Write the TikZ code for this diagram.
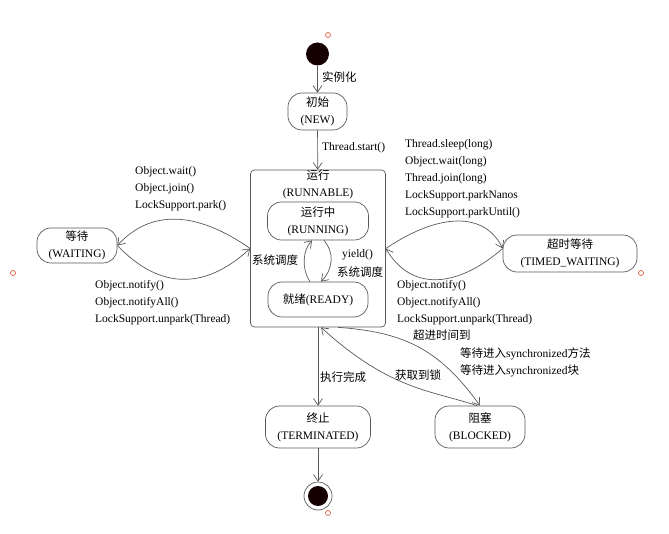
\documentclass[tikz,border=0pt]{standalone}
\usepackage{fontspec}
\setmainfont{Liberation Serif}
\newfontfamily\cjk{Noto Sans CJK SC}
\usetikzlibrary{arrows.meta}
\begin{document}
\begin{tikzpicture}[x=1pt,y=-1pt,
  font=\fontsize{11.5}{17}\selectfont,
  line/.style={draw=black!65, line width=0.7pt},
  arr/.style={line, -{Straight Barb[length=6.5pt,width=9pt]}},
  state/.style={draw=black!65, line width=0.7pt, rounded corners=14pt, align=center, inner sep=0pt},
  lbl/.style={align=left, anchor=west, inner sep=0pt},
  handle/.style={draw=red!45!brown, line width=0.6pt, circle, minimum size=5pt, inner sep=0pt}]
\path[use as bounding box] (0,0) rectangle (669,534);

% start / end
\node[circle, fill=black!92!red, minimum size=23pt, inner sep=0pt] (init) at (317.5,54) {};
\node[circle, draw=black!65, line width=0.7pt, minimum size=28pt, inner sep=0pt] (endc) at (318,496) {};
\node[circle, fill=black!92!red, minimum size=20pt, inner sep=0pt] (endin) at (318,496) {};

% states
\node[state, minimum width=59pt, minimum height=37pt] (new) at (317.5,111.5) {{\cjk 初始}\\(NEW)};
\node[draw=black!65, line width=0.7pt, rounded corners=4pt, minimum width=135pt, minimum height=157pt, inner sep=0pt] (runnable) at (318,248.5) {};
\node[align=center, inner sep=0pt] (runtitle) at (318,184) {{\cjk 运行}\\(RUNNABLE)};
\node[state, minimum width=101pt, minimum height=38pt] (running) at (318,221) {{\cjk 运行中}\\(RUNNING)};
\node[state, minimum width=100pt, minimum height=35pt] (ready) at (318,299.5) {{\cjk 就绪}(READY)};
\node[state, minimum width=80pt, minimum height=35pt] (waiting) at (77,245.5) {{\cjk 等待}\\(WAITING)};
\node[state, minimum width=134pt, minimum height=37pt] (timed) at (570,253.5) {{\cjk 超时等待}\\(TIMED\_WAITING)};
\node[state, minimum width=105pt, minimum height=42pt] (terminated) at (318,427) {{\cjk 终止}\\(TERMINATED)};
\node[state, minimum width=90pt, minimum height=42pt] (blocked) at (480,427) {{\cjk 阻塞}\\(BLOCKED)};

% connectors
\draw[arr] (init) -- (new);
\node[lbl] (lshili) at (322,77) {\cjk 实例化};
\draw[arr] (new) -- (runnable);
\node[lbl] (lstart) at (322,148) {Thread.start()};

\draw[arr] ([xshift=-8pt]ready.north) .. controls (301,268) and (303,250) .. ([xshift=-6pt]running.south);
\draw[arr] ([xshift=6pt]running.south) .. controls (334,252) and (334,268) .. ([xshift=3pt]ready.north);
\node[lbl] (lsys1) at (252,260) {\cjk 系统调度};
\node[lbl] (lyield) at (342,255) {yield()};
\node[lbl] (lsys2) at (337,272) {\cjk 系统调度};

\draw[arr] (runnable.west) .. controls (195,210) and (150,210) .. (waiting.east);
\draw[arr] (waiting.east) .. controls (160,290) and (205,290) .. (runnable.west);
\node[lbl] (lwait) at (135,189) {Object.wait()\\Object.join()\\LockSupport.park()};
\node[lbl] (lnotify1) at (95,303) {Object.notify()\\Object.notifyAll()\\LockSupport.unpark(Thread)};

\draw[arr] (runnable.east) .. controls (440,212) and (485,212) .. ([yshift=5pt]timed.west);
\draw[arr] ([yshift=5pt]timed.west) .. controls (455,290) and (410,290) .. (runnable.east);
\node[lbl] (lsleep) at (405,179) {Thread.sleep(long)\\Object.wait(long)\\Thread.join(long)\\LockSupport.parkNanos\\LockSupport.parkUntil()};
\node[lbl] (lnotify2) at (397,302.5) {Object.notify()\\Object.notifyAll()\\LockSupport.unpark(Thread)};

\draw[arr] (runnable.south) -- (terminated.north);
\node[lbl] (ldone) at (320,377) {\cjk 执行完成};
\draw[arr] (terminated) -- (endc);

\draw[arr] ([xshift=20pt]runnable.south) .. controls (405,332) and (440,350) .. (blocked.north);
\draw[arr] ([xshift=-3pt]blocked.north) .. controls (430,390) and (390,390) .. ([xshift=3pt]runnable.south);
\node[lbl] (ltimeout) at (413,335) {\cjk 超进时间到};
\node[lbl] (lsync) at (460,362) {{\cjk 等待进入}synchronized{\cjk 方法}\\{\cjk 等待进入}synchronized{\cjk 块}};
\node[lbl] (llock) at (395,375) {\cjk 获取到锁};

% selection handles
\node[handle] (h1) at (328,35) {};
\node[handle] (h2) at (13,273) {};
\node[handle] (h3) at (641,273) {};
\node[handle] (h4) at (328,513) {};
\end{tikzpicture}
\end{document}
